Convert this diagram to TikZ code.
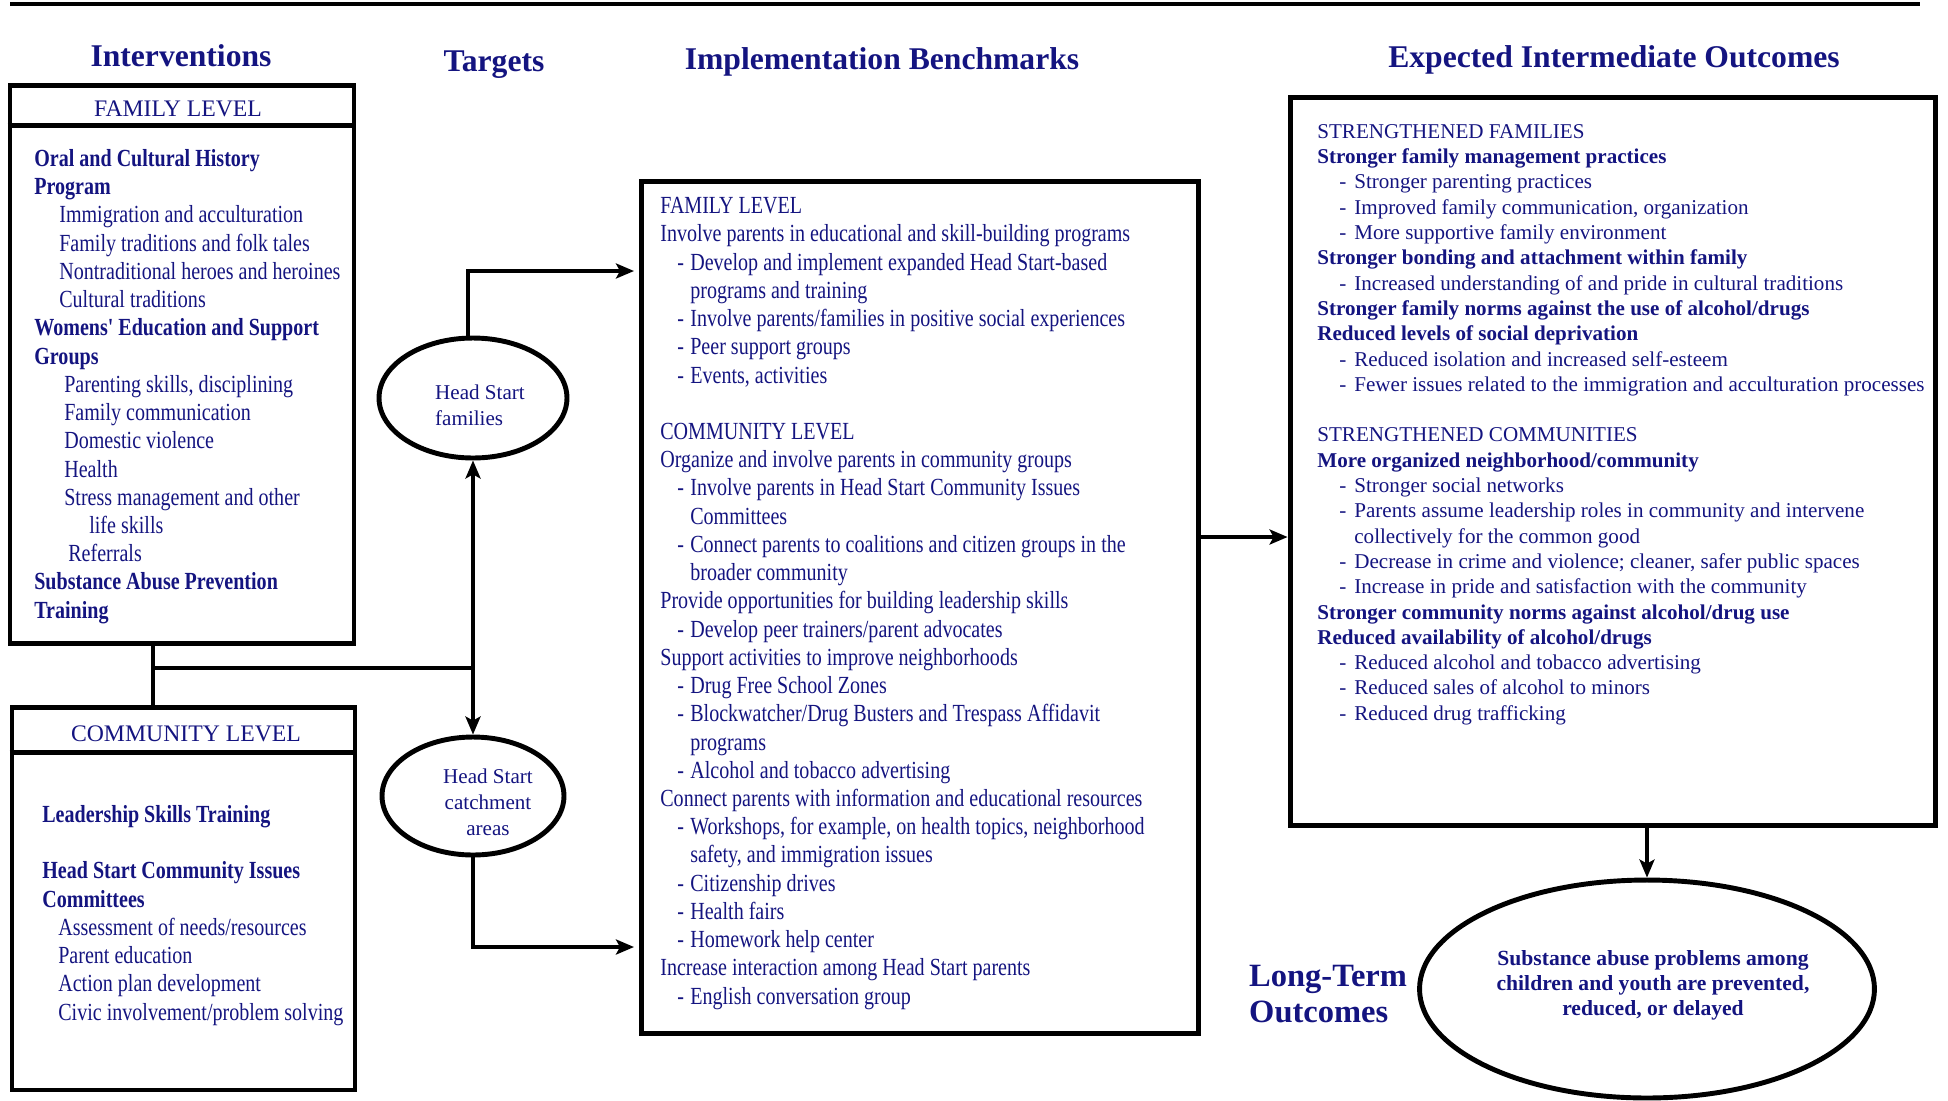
\documentclass[tikz,border=0pt]{standalone}
\usepackage{fontspec}
\setmainfont{Liberation Serif}
\newfontfamily\narrowfont[FakeStretch=0.815]{Liberation Serif}
\usetikzlibrary{arrows.meta,positioning,calc,shapes.geometric}
\definecolor{navy}{RGB}{20,20,128}
\newcommand{\bmi}{\hspace*{0.34cm}\makebox[0.26cm][l]{-}}
\newcommand{\bmc}{\hspace*{0.6cm}}
\newcommand{\omi}{\hspace*{0.44cm}\makebox[0.30cm][l]{-}}
\newcommand{\omc}{\hspace*{0.74cm}}
\tikzset{
  box/.style={draw,line width=2.8pt,inner sep=0pt},
  heading/.style={text=navy,font=\bfseries\fontsize{18}{21}\selectfont},
  levelhead/.style={text=navy,font=\fontsize{13.5}{15}\selectfont},
  bodytext/.style={text=navy,anchor=north west,inner sep=0pt,align=left,
    font=\narrowfont\fontsize{14}{16.07}\selectfont},
  outtext/.style={text=navy,anchor=north west,inner sep=0pt,align=left,
    font=\fontsize{12}{14.4}\selectfont},
  target/.style={draw,ellipse,line width=2.8pt,inner sep=0pt},
  targettext/.style={text=navy,inner sep=0pt,font=\fontsize{12}{14.8}\selectfont},
  link/.style={line width=2.8pt},
  arrow/.style={link,-{Stealth[length=0.36cm,width=0.3cm,inset=0.08cm]}}
}
\begin{document}
\begin{tikzpicture}[x=0.02cm,y=-0.02cm]
\useasboundingbox (0,0) rectangle (1948,1100);

% rule and column titles
\draw[line width=2.3pt] (10,4) -- (1920,4);
\node[heading] (tint) at (181,56) {Interventions};
\node[heading] (ttar) at (494,65) {Targets};
\node[heading] (tben) at (882,62) {Implementation Benchmarks};
\node[heading] (tout) at (1614,60) {Expected Intermediate Outcomes};

% interventions, family level
\node[box,minimum width=6.88cm,minimum height=11.18cm] (fambox) at (182,364.5) {};
\draw[link] ([yshift=-0.86cm]fambox.north west) -- ([yshift=-0.86cm]fambox.north east);
\node[levelhead] (famhead) at (178,109) {FAMILY LEVEL};
\node[bodytext] (famtext) at (34,149) {%
\textbf{Oral and Cultural History}\\
\textbf{Program}\\
\hspace*{0.5cm}Immigration and acculturation\\
\hspace*{0.5cm}Family traditions and folk tales\\
\hspace*{0.5cm}Nontraditional heroes and heroines\\
\hspace*{0.5cm}Cultural traditions\\
\textbf{Womens' Education and Support}\\
\textbf{Groups}\\
\hspace*{0.6cm}Parenting skills, disciplining\\
\hspace*{0.6cm}Family communication\\
\hspace*{0.6cm}Domestic violence\\
\hspace*{0.6cm}Health\\
\hspace*{0.6cm}Stress management and other\\
\hspace*{1.1cm}life skills\\
\hspace*{0.68cm}Referrals\\
\textbf{Substance Abuse Prevention}\\
\textbf{Training}};

% interventions, community level
\node[box,minimum width=6.86cm,minimum height=7.66cm] (combox) at (183.5,898.5) {};
\draw[link] ([yshift=-0.96cm]combox.north west) -- ([yshift=-0.96cm]combox.north east);
\node[levelhead] (comhead) at (186,734) {COMMUNITY LEVEL};
\node[bodytext] (comtext) at (42,805) {%
\textbf{Leadership Skills Training}\\[16.07pt]
\textbf{Head Start Community Issues}\\
\textbf{Committees}\\
\hspace*{0.32cm}Assessment of needs/resources\\
\hspace*{0.32cm}Parent education\\
\hspace*{0.32cm}Action plan development\\
\hspace*{0.32cm}Civic involvement/problem solving};

% targets
\node[target,minimum width=3.76cm,minimum height=2.4cm] (hsfam) at (473,398) {};
\node[targettext,align=left] (hsfamtext) at (480,405) {Head Start\\families};
\node[target,minimum width=3.64cm,minimum height=2.36cm] (hscatch) at (473,796) {};
\node[targettext,align=center] (hscatchtext) at (488,802) {Head Start\\catchment\\areas};

% implementation benchmarks
\node[box,minimum width=11.16cm,minimum height=17.06cm] (benchbox) at (920,607.5) {};
\node[bodytext] (benchtext) at (660,197) {%
FAMILY LEVEL\\
Involve parents in educational and skill-building programs\\
\bmi Develop and implement expanded Head Start-based\\
\bmc programs and training\\
\bmi Involve parents/families in positive social experiences\\
\bmi Peer support groups\\
\bmi Events, activities\\[16.07pt]
COMMUNITY LEVEL\\
Organize and involve parents in community groups\\
\bmi Involve parents in Head Start Community Issues\\
\bmc Committees\\
\bmi Connect parents to coalitions and citizen groups in the\\
\bmc broader community\\
Provide opportunities for building leadership skills\\
\bmi Develop peer trainers/parent advocates\\
Support activities to improve neighborhoods\\
\bmi Drug Free School Zones\\
\bmi Blockwatcher/Drug Busters and Trespass Affidavit\\
\bmc programs\\
\bmi Alcohol and tobacco advertising\\
Connect parents with information and educational resources\\
\bmi Workshops, for example, on health topics, neighborhood\\
\bmc safety, and immigration issues\\
\bmi Citizenship drives\\
\bmi Health fairs\\
\bmi Homework help center\\
Increase interaction among Head Start parents\\
\bmi English conversation group};

% expected intermediate outcomes
\node[box,minimum width=12.92cm,minimum height=14.58cm] (outbox) at (1613,461.5) {};
\node[outtext] (outtext) at (1317,124) {%
STRENGTHENED FAMILIES\\
\textbf{Stronger family management practices}\\
\omi Stronger parenting practices\\
\omi Improved family communication, organization\\
\omi More supportive family environment\\
\textbf{Stronger bonding and attachment within family}\\
\omi Increased understanding of and pride in cultural traditions\\
\textbf{Stronger family norms against the use of alcohol/drugs}\\
\textbf{Reduced levels of social deprivation}\\
\omi Reduced isolation and increased self-esteem\\
\omi Fewer issues related to the immigration and acculturation processes\\[14.4pt]
STRENGTHENED COMMUNITIES\\
\textbf{More organized neighborhood/community}\\
\omi Stronger social networks\\
\omi Parents assume leadership roles in community and intervene\\
\omc collectively for the common good\\
\omi Decrease in crime and violence; cleaner, safer public spaces\\
\omi Increase in pride and satisfaction with the community\\
\textbf{Stronger community norms against alcohol/drug use}\\
\textbf{Reduced availability of alcohol/drugs}\\
\omi Reduced alcohol and tobacco advertising\\
\omi Reduced sales of alcohol to minors\\
\omi Reduced drug trafficking};

% long-term outcomes
\node[heading,anchor=west,align=left,font=\bfseries\fontsize{18.5}{21}\selectfont] (tlong) at (1243,994) {Long-Term\\Outcomes};
\node[target,minimum width=9.1cm,minimum height=4.36cm] (longterm) at (1647,989) {};
\node[targettext,align=center,font=\bfseries\fontsize{12.3}{14.2}\selectfont] (longtext) at (1653,985)
  {Substance abuse problems among\\children and youth are prevented,\\reduced, or delayed};

% connectors
\coordinate (split) at (153,668);
\coordinate (famin) at (634,271);
\coordinate (catchin) at (634,947);
\coordinate (midlink) at (1199,537);
\draw[link] (split |- fambox.south) -- (split |- combox.north);
\draw[link] (split) -- (split -| hsfam.south);
\draw[arrow] (split -| hsfam.south) -- (hsfam.south);
\draw[arrow] (split -| hsfam.south) -- (hscatch.north);
\draw[arrow] ([xshift=-0.1cm]hsfam.north) |- (famin);
\draw[arrow] (hscatch.south) |- (catchin);
\draw[arrow] (midlink) -- (midlink -| outbox.west);
\draw[arrow] (longterm.north |- outbox.south) -- (longterm.north);
\end{tikzpicture}
\end{document}
